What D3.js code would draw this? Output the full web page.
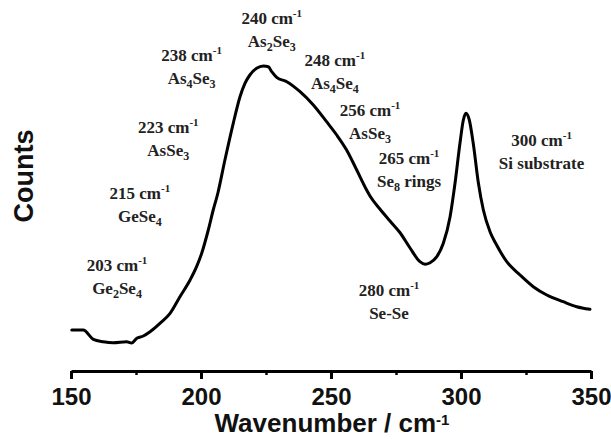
<!DOCTYPE html>
<html>
<head>
<meta charset="utf-8">
<script src="https://cdn.jsdelivr.net/npm/d3@7"></script>
<style>
  html, body { margin: 0; padding: 0; background: #fff; }
  svg { display: block; }
  .ann { font-family: "Liberation Serif", "Times New Roman", serif; font-weight: bold; font-size: 17px; fill: #222; }
  .axis text { font-family: "Liberation Sans", Arial, sans-serif; font-weight: bold; font-size: 24px; fill: #111; }
  .title { font-family: "Liberation Sans", Arial, sans-serif; font-weight: bold; fill: #111; }
</style>
</head>
<body>
<svg id="chart" width="611" height="439"></svg>
<script>
// Raman spectrum: wavenumber (cm-1) and intensity (arbitrary counts)
const wavenumber = [150.3, 154.7, 158.6, 162.4, 166.3, 171.4, 173.3, 175.3, 177.8, 180.4,
  184.2, 188.1, 191.9, 195.8, 198.3, 200.3, 202.8, 204.7, 206.4, 209.2,
  212.4, 215.0, 216.9, 218.8, 221.4, 224.0, 225.9, 227.2, 229.1, 233.0,
  238.1, 243.2, 248.3, 252.2, 256.0, 259.9, 263.7, 265.0, 268.8, 272.7,
  276.5, 280.4, 284.2, 286.2, 288.1, 290.7, 293.2, 295.8, 297.7, 299.6,
  300.9, 301.9, 303.2, 304.7, 306.7, 308.6, 311.2, 313.7, 317.6, 322.7,
  327.8, 333.0, 339.3, 344.5, 349.6];
const counts = [42, 42, 32.7, 30.3, 29.3, 30.3, 29, 33.7, 36, 40.3,
  48.7, 58.7, 75.3, 92, 105.3, 119, 142, 162, 178, 212,
  248.7, 275.3, 288.7, 297, 303.7, 306, 305.3, 300.3, 294.7, 290.3,
  280.3, 267, 250.3, 237, 222, 202, 182, 176, 163, 151,
  139.5, 124, 110.3, 107.7, 109.3, 115.3, 128.7, 155.3, 188.7, 228.7,
  252, 258.7, 252, 228.7, 188.7, 162, 140, 127, 110.3, 97,
  85.3, 77, 70.3, 65.3, 62.7];

// Band assignments
const peakWavenumbers = [203, 215, 223, 238, 240, 248, 256, 265, 280, 300];
const peakAssignments = ["Ge2Se4", "GeSe4", "AsSe3", "As4Se3", "As2Se3",
  "As4Se4", "AsSe3", "Se8 rings", "Se-Se", "Si substrate"];
// Where each label block sits, in data units [wavenumber, counts]
const labelAnchorW = [167.7, 176.5, 187.4, 196.4, 227.2, 251.5, 265.0, 280.0, 272.3, 331.0];
const labelAnchorC = [101, 173, 239.3, 311, 348, 306, 256, 208, 76, 226];

// Axis ticks
const majorTicks = [150, 200, 250, 300, 350];
const minorTicks = [175, 225, 275, 325];

const svg = d3.select("#chart");
const x = d3.scaleLinear().domain([150, 350]).range([71, 591]);
const y = d3.scaleLinear().domain([0, 372]).range([372, 0]);
const axisY = 371;

// Spectrum trace
const line = d3.line()
  .x((d, i) => x(wavenumber[i]))
  .y(d => y(d))
  .curve(d3.curveMonotoneX);
svg.append("path")
  .datum(counts)
  .attr("d", line)
  .attr("fill", "none")
  .attr("stroke", "#000")
  .attr("stroke-width", 3)
  .attr("stroke-linejoin", "round")
  .attr("stroke-linecap", "round");

// Bottom axis with major ticks and labels
const gx = svg.append("g")
  .attr("class", "axis")
  .attr("transform", `translate(0,${axisY})`)
  .call(d3.axisBottom(x).tickValues(majorTicks).tickSize(8).tickSizeOuter(0).tickPadding(9).tickFormat(d3.format("d")));
gx.select(".domain").attr("stroke", "#000").attr("stroke-width", 3);
gx.selectAll(".tick line").attr("stroke", "#000").attr("stroke-width", 3);

// Minor ticks
const gm = svg.append("g")
  .attr("transform", `translate(0,${axisY})`)
  .call(d3.axisBottom(x).tickValues(minorTicks).tickSize(4).tickFormat(""));
gm.select(".domain").remove();
gm.selectAll(".tick line").attr("stroke", "#000").attr("stroke-width", 2.5);

// Axis titles
const xt = svg.append("text")
  .attr("class", "title")
  .attr("x", 332).attr("y", 432)
  .attr("text-anchor", "middle")
  .style("font-size", "26px");
xt.append("tspan").text("Wavenumber / cm");
xt.append("tspan").attr("dy", -7).style("font-size", "15px").text("-1");

svg.append("text")
  .attr("class", "title")
  .attr("transform", "translate(33,176) rotate(-90)")
  .attr("text-anchor", "middle")
  .style("font-size", "27px")
  .text("Counts");

// Writes a chemical formula, subscripting digits that follow a letter
function formula(textSel, str) {
  const parts = str.match(/[A-Za-z\- ]+|\d+/g);
  let shifted = false;
  parts.forEach((p, i) => {
    const isSub = /^\d+$/.test(p) && i > 0;
    const t = textSel.append("tspan").text(p);
    if (isSub) {
      t.attr("dy", 4).style("font-size", "12px");
      shifted = true;
    } else if (shifted) {
      t.attr("dy", -4);
      shifted = false;
    }
  });
}

// Band labels: wavenumber line plus assignment line
peakWavenumbers.forEach((w, i) => {
  const cx = x(labelAnchorW[i]);
  const cy = y(labelAnchorC[i]);
  const t1 = svg.append("text").attr("class", "ann")
    .attr("x", cx).attr("y", cy).attr("text-anchor", "middle");
  t1.append("tspan").text(`${w} cm`);
  t1.append("tspan").attr("dy", -7).style("font-size", "11px").text("-1");

  const t2 = svg.append("text").attr("class", "ann")
    .attr("x", cx).attr("y", cy + 23).attr("text-anchor", "middle");
  formula(t2, peakAssignments[i]);
});
</script>
</body>
</html>
